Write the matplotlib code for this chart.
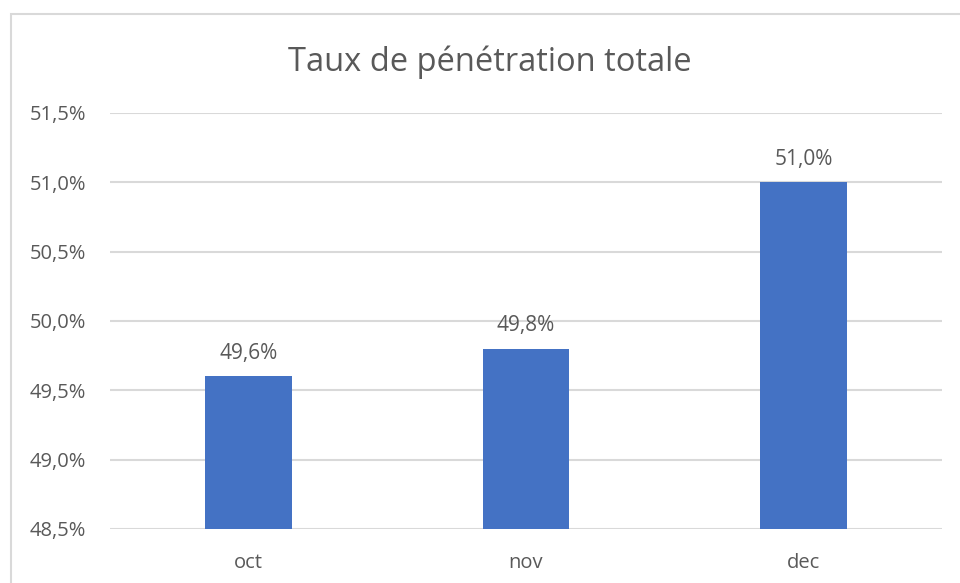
import matplotlib.pyplot as plt
from matplotlib.patches import Rectangle

months = ["oct", "nov", "dec"]
taux = [49.6, 49.8, 51.0]
y_ticks = [48.5, 49.0, 49.5, 50.0, 50.5, 51.0, 51.5]

plt.rcParams['font.family'] = ['Open Sans', 'DejaVu Sans']
text_col = '#595959'
grid_col = '#D9D9D9'

fig = plt.figure(figsize=(9.6, 5.83), dpi=100)
ax = fig.add_axes([110 / 960, 54 / 583, 832 / 960, 416 / 583])

# chart border, cropped on the right and bottom like the screenshot
fig.patches.append(Rectangle((10.5 / 960, -0.05), 1.2, (583 - 14) / 583 + 0.05,
                             transform=fig.transFigure, fill=False,
                             edgecolor=grid_col, linewidth=1.5))

x = range(len(months))
ax.bar(x, taux, width=0.313, color='#4472C4', zorder=3, bottom=0)
for xi, v in zip(x, taux):
    ax.annotate(f"{v:.1f}%".replace('.', ','), (xi, v), xytext=(0, 16.5),
                textcoords='offset points', ha='center', va='center',
                fontsize=15, color=text_col)

ax.set_ylim(48.5, 51.5)
ax.set_xlim(-0.5, 2.5)
ax.set_yticks(y_ticks)
ax.set_yticklabels([f"{t:.1f}%".replace('.', ',') for t in y_ticks])
ax.set_xticks(list(x))
ax.set_xticklabels(months)
ax.tick_params(axis='both', length=0, labelsize=14.5, labelcolor=text_col)
ax.tick_params(axis='y', pad=17)
ax.tick_params(axis='x', pad=17)
ax.grid(axis='y', color=grid_col, linewidth=1.5, zorder=0)
for s in ax.spines.values():
    s.set_visible(False)

fig.text(490 / 960, 1 - 62 / 583, "Taux de pénétration totale", ha='center',
         va='center', fontsize=23.5, color=text_col)

fig.savefig("out.png", dpi=100)
